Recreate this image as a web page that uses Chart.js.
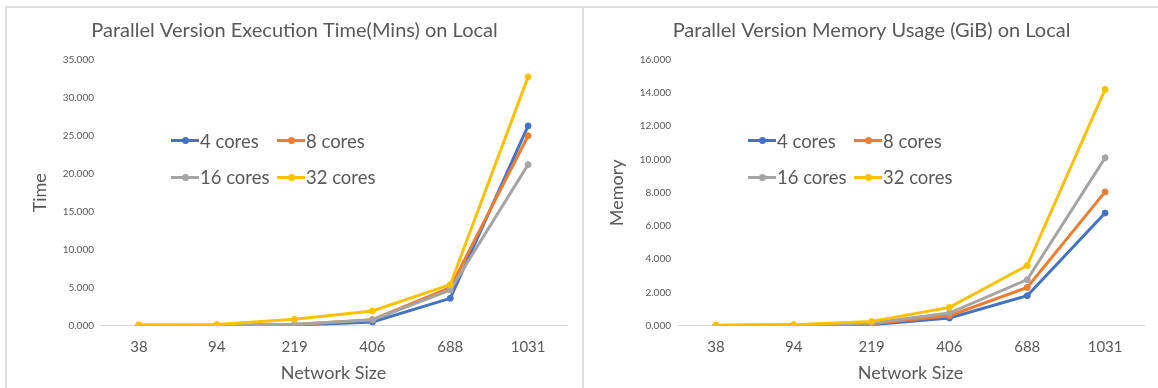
<!DOCTYPE html>
<html>
<head>
<meta charset="utf-8">
<script src="https://cdn.jsdelivr.net/npm/chart.js@4.4.1/dist/chart.umd.min.js"></script>
<style>
  html, body { margin: 0; padding: 0; background: #fff; overflow: hidden; width: 1158px; height: 388px; }
  .panel { position: absolute; top: 0; width: 577px; height: 388px; }
  .panel canvas { position: absolute; left: 0; top: 0; }
  .rule { position: absolute; background: #dedede; }
  .legend { position: absolute; left: 0; top: 0; width: 100%; height: 100%; pointer-events: none;
            font-family: Lato, "Open Sans", sans-serif; font-size: 18.5px; color: #595959; }
  .item { position: absolute; display: flex; align-items: center; height: 22px; line-height: 22px; white-space: nowrap; }
  .sym { position: relative; width: 28px; height: 3px; margin-right: 1px; }
  .sym i { position: absolute; left: 10.5px; top: -2px; width: 7px; height: 7px; border-radius: 50%; }
</style>
</head>
<body>
<div class="rule" style="left:5px;top:6px;width:1153px;height:2px;"></div>
<div class="rule" style="left:5px;top:6px;width:2px;height:382px;"></div>
<div class="rule" style="left:582px;top:6px;width:2px;height:382px;"></div>

<div class="panel" style="left:6px;"><canvas id="timeChart" width="577" height="388"></canvas><div class="legend" id="timeLegend"></div></div>
<div class="panel" style="left:583px;"><canvas id="memChart" width="577" height="388"></canvas><div class="legend" id="memLegend"></div></div>

<script>
// Network sizes on the category axis
const sizes = ['38', '94', '219', '406', '688', '1031'];
const coreLabels = ['4 cores', '8 cores', '16 cores', '32 cores'];

// Execution time in minutes
const time4  = [0.02, 0.02, 0.05, 0.50, 3.60, 26.30];
const time8  = [0.02, 0.04, 0.15, 0.80, 5.00, 25.00];
const time16 = [0.02, 0.05, 0.20, 0.75, 4.70, 21.20];
const time32 = [0.12, 0.15, 0.84, 1.93, 5.40, 32.75];

// Memory usage in GiB
const mem4  = [0.01, 0.03, 0.06, 0.46, 1.80, 6.78];
const mem8  = [0.01, 0.03, 0.12, 0.60, 2.30, 8.05];
const mem16 = [0.01, 0.04, 0.16, 0.76, 2.77, 10.10];
const mem32 = [0.02, 0.05, 0.26, 1.10, 3.62, 14.22];

// Value-axis ranges
const timeAxis = { max: 35, step: 5 };
const memAxis  = { max: 16, step: 2 };

const seriesColors = ['#4472C4', '#ED7D31', '#A5A5A5', '#FFC000'];
const FONT = 'Lato, "Open Sans", sans-serif';
const TEXT = '#595959';

function makeDatasets(series) {
  return series.map((values, i) => ({
    label: coreLabels[i],
    data: values,
    borderColor: seriesColors[i],
    backgroundColor: seriesColors[i],
    borderWidth: 3,
    pointRadius: 3,
    pointBorderWidth: 1,
    pointBorderColor: seriesColors[i],
    pointBackgroundColor: seriesColors[i],
    tension: 0,
    order: series.length - i
  }));
}

function makeChart(canvasId, legendId, titleText, yTitle, series, axis) {
  const chart = new Chart(document.getElementById(canvasId), {
    type: 'line',
    data: { labels: sizes, datasets: makeDatasets(series) },
    options: {
      responsive: false,
      devicePixelRatio: 1,
      animation: false,
      layout: { padding: { left: 16, right: 16, top: 0, bottom: 0 } },
      plugins: {
        legend: { display: false },
        tooltip: { enabled: false },
        title: {
          display: true,
          text: titleText,
          color: TEXT,
          font: { family: FONT, size: 20, weight: 'normal' },
          padding: { top: 19, bottom: 16.8 }
        }
      },
      scales: {
        x: {
          offset: true,
          grid: { display: false, drawTicks: false, tickLength: 0 },
          border: { display: true, color: '#d9d9d9', width: 1 },
          ticks: { color: TEXT, font: { family: FONT, size: 15 }, padding: 12.8, maxRotation: 0 },
          title: {
            display: true, text: 'Network Size', color: TEXT,
            font: { family: FONT, size: 18 }, padding: { top: 0, bottom: 4.2 }
          },
          afterFit: s => { s.height = 62.3; }
        },
        y: {
          min: 0,
          max: axis.max,
          grid: { display: false, drawTicks: false, tickLength: 0 },
          border: { display: false },
          ticks: {
            stepSize: axis.step, color: TEXT, font: { family: FONT, size: 10 }, padding: 6,
            callback: v => Number(v).toFixed(3)
          },
          title: {
            display: true, text: yTitle, color: TEXT,
            font: { family: FONT, size: 18 }, padding: { top: 7.2, bottom: 0 }
          },
          afterFit: s => { s.width = 78; }
        }
      }
    }
  });

  // Two-column legend placed inside the plot area
  const legend = document.getElementById(legendId);
  const colLeft = [165, 271];
  const rowMid = [140.7, 177.3];
  chart.data.datasets.forEach((ds, i) => {
    const item = document.createElement('div');
    item.className = 'item';
    item.style.left = colLeft[i % 2] + 'px';
    item.style.top = (rowMid[Math.floor(i / 2)] - 11) + 'px';
    const sym = document.createElement('span');
    sym.className = 'sym';
    sym.style.background = ds.borderColor;
    const dot = document.createElement('i');
    dot.style.background = ds.borderColor;
    sym.appendChild(dot);
    item.appendChild(sym);
    item.appendChild(document.createTextNode(ds.label));
    legend.appendChild(item);
  });
  return chart;
}

makeChart('timeChart', 'timeLegend', 'Parallel Version Execution Time(Mins) on Local', 'Time',
          [time4, time8, time16, time32], timeAxis);
makeChart('memChart', 'memLegend', 'Parallel Version Memory Usage (GiB) on Local', 'Memory',
          [mem4, mem8, mem16, mem32], memAxis);
</script>
</body>
</html>
